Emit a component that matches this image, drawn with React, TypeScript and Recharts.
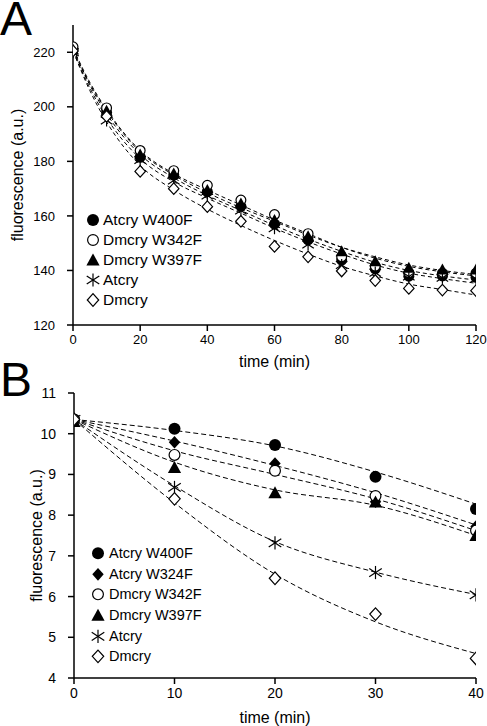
import React from 'react';
import {
  ComposedChart,
  Line,
  Scatter,
  XAxis,
  YAxis,
} from 'recharts';

// ---------- Panel A data ----------
const timeA = [0, 10, 20, 30, 40, 50, 60, 70, 80, 90, 100, 110, 120];
const a_W400F = [221, 198, 181.5, 175, 168.9, 163.5, 157, 151.2, 143.8, 140.6, 137.9, 138, 137.5];
const a_W342F = [222, 199.6, 184, 176.6, 171.2, 165.8, 160.5, 153.5, 145, 141.6, 139.2, 139, 139];
const a_W397F = [221, 198.5, 182.5, 175.5, 169.5, 164.5, 158.5, 152.5, 147, 143.4, 141, 140.3, 140.3];
const a_Atcry = [220, 195, 180.5, 173, 167.5, 162, 155.5, 149.5, 142, 139.2, 137.8, 137.3, 137];
const a_Dmcry = [220.5, 196.5, 176.3, 170, 163.4, 158, 148.8, 145, 139.8, 136.3, 133.4, 132.8, 132.6];

const fitTimeA = [0, 5, 10, 20, 30, 40, 50, 60, 70, 80, 90, 100, 110, 120];
const fitA_W400F = [221, 208, 197.5, 182.5, 174, 167.5, 162, 156.5, 151.5, 147, 143, 140, 138, 136.5];
const fitA_W342F = [221.5, 209, 199, 184, 175.5, 169.5, 164, 158.5, 153.5, 148.5, 144.5, 141.5, 139.5, 138];
const fitA_W397F = [221, 208.5, 198.5, 183.5, 175, 168.5, 163, 158, 153, 148.5, 145, 142, 140, 138.5];
const fitA_Atcry = [220.5, 207, 196, 181, 172.5, 166.5, 161, 155.5, 150.5, 146, 142, 139, 137, 135.3];
const fitA_Dmcry = [220.5, 206, 194.5, 178.5, 169.5, 162.5, 156.5, 151, 146, 141.5, 138, 135, 133, 131];

const xTicksA = [0, 20, 40, 60, 80, 100, 120];
const yTicksA = [120, 140, 160, 180, 200, 220];

// ---------- Panel B data ----------
const timeB = [0, 10, 20, 30, 40];
const b_W400F = [10.35, 10.12, 9.72, 8.94, 8.15];
const b_W324F = [10.33, 9.79, 9.27, 8.33, 7.72];
const b_W342F = [10.35, 9.48, 9.09, 8.47, 7.62];
const b_W397F = [10.3, 9.17, 8.55, 8.32, 7.5];
const b_Atcry = [10.35, 8.68, 7.32, 6.59, 6.04];
const b_Dmcry = [10.35, 8.4, 6.45, 5.57, 4.48];

const fitTimeB = [0, 10, 20, 30, 40];
const fitB_W400F = [10.35, 10.08, 9.7, 9.06, 8.27];
const fitB_W324F = [10.35, 9.82, 9.22, 8.55, 7.76];
const fitB_W342F = [10.35, 9.58, 9.0, 8.4, 7.62];
const fitB_W397F = [10.35, 9.3, 8.62, 8.24, 7.5];
const fitB_Atcry = [10.35, 8.72, 7.35, 6.6, 6.05];
const fitB_Dmcry = [10.35, 8.3, 6.55, 5.38, 4.6];

const xTicksB = [0, 10, 20, 30, 40];
const yTicksB = [4, 5, 6, 7, 8, 9, 10, 11];

const FONT = '"Liberation Sans", Arial, Helvetica, sans-serif';

type Pt = { x: number; y: number };
const zip = (xs: number[], ys: number[]): Pt[] => xs.map((x, i) => ({ x, y: ys[i] }));

type Kind = 'dot' | 'circle' | 'triangle' | 'star' | 'diamond' | 'diamondFilled';

function Marker({ kind, cx, cy, s }: { kind: Kind; cx: number; cy: number; s: number }) {
  if (cx == null || cy == null || isNaN(cx) || isNaN(cy)) return null;
  switch (kind) {
    case 'dot':
      return <circle cx={cx} cy={cy} r={s} fill="#000" />;
    case 'circle':
      return <circle cx={cx} cy={cy} r={s - 0.6} fill="#fff" stroke="#000" strokeWidth={1.2} />;
    case 'triangle':
      return (
        <polygon
          points={`${cx},${cy - s * 1.1} ${cx + s * 1.1},${cy + s * 0.9} ${cx - s * 1.1},${cy + s * 0.9}`}
          fill="#000"
        />
      );
    case 'star': {
      const r = s * 1.1;
      const dx = r * 0.95;
      const dy = r * 0.62;
      return (
        <g stroke="#000" strokeWidth={1.2}>
          <line x1={cx} y1={cy - r} x2={cx} y2={cy + r} />
          <line x1={cx - dx} y1={cy - dy} x2={cx + dx} y2={cy + dy} />
          <line x1={cx - dx} y1={cy + dy} x2={cx + dx} y2={cy - dy} />
        </g>
      );
    }
    case 'diamond': {
      const w = s * 0.95;
      const h = s * 1.05;
      return (
        <polygon
          points={`${cx},${cy - h} ${cx + w},${cy} ${cx},${cy + h} ${cx - w},${cy}`}
          fill="#fff"
          stroke="#000"
          strokeWidth={1.2}
        />
      );
    }
    case 'diamondFilled': {
      const w = s * 0.95;
      const h = s * 1.05;
      return <polygon points={`${cx},${cy - h} ${cx + w},${cy} ${cx},${cy + h} ${cx - w},${cy}`} fill="#000" />;
    }
  }
  return null;
}

type SeriesDef = { name: string; kind: Kind; data: Pt[]; fit: Pt[] };

const seriesA: SeriesDef[] = [
  { name: 'Atcry W400F', kind: 'dot', data: zip(timeA, a_W400F), fit: zip(fitTimeA, fitA_W400F) },
  { name: 'Dmcry W342F', kind: 'circle', data: zip(timeA, a_W342F), fit: zip(fitTimeA, fitA_W342F) },
  { name: 'Dmcry W397F', kind: 'triangle', data: zip(timeA, a_W397F), fit: zip(fitTimeA, fitA_W397F) },
  { name: 'Atcry', kind: 'star', data: zip(timeA, a_Atcry), fit: zip(fitTimeA, fitA_Atcry) },
  { name: 'Dmcry', kind: 'diamond', data: zip(timeA, a_Dmcry), fit: zip(fitTimeA, fitA_Dmcry) },
];

const seriesB: SeriesDef[] = [
  { name: 'Atcry W400F', kind: 'dot', data: zip(timeB, b_W400F), fit: zip(fitTimeB, fitB_W400F) },
  { name: 'Atcry W324F', kind: 'diamondFilled', data: zip(timeB, b_W324F), fit: zip(fitTimeB, fitB_W324F) },
  { name: 'Dmcry W342F', kind: 'circle', data: zip(timeB, b_W342F), fit: zip(fitTimeB, fitB_W342F) },
  { name: 'Dmcry W397F', kind: 'triangle', data: zip(timeB, b_W397F), fit: zip(fitTimeB, fitB_W397F) },
  { name: 'Atcry', kind: 'star', data: zip(timeB, b_Atcry), fit: zip(fitTimeB, fitB_Atcry) },
  { name: 'Dmcry', kind: 'diamond', data: zip(timeB, b_Dmcry), fit: zip(fitTimeB, fitB_Dmcry) },
];

function AxisTitle({ px, py, rotate, text, size }: any) {
  return (
    <text
      x={px}
      y={py}
      transform={rotate ? `rotate(-90 ${px} ${py})` : undefined}
      textAnchor="middle"
      dominantBaseline="central"
      fontFamily={FONT}
      fontSize={size}
      fill="#000"
    >
      {text}
    </text>
  );
}

function LegendBox({ series, s, fontSize, rowH, gap, left, top }: any) {
  return (
    <div style={{ position: 'absolute', left, top, fontFamily: FONT, fontSize, color: '#000' }}>
      {series.map((d: SeriesDef) => (
        <div key={d.name} style={{ display: 'flex', alignItems: 'center', height: rowH, whiteSpace: 'nowrap' }}>
          <svg width={16} height={rowH} style={{ display: 'block' }}>
            <Marker kind={d.kind} cx={8} cy={rowH / 2} s={s} />
          </svg>
          <span style={{ marginLeft: gap, lineHeight: `${rowH}px` }}>{d.name}</span>
        </div>
      ))}
    </div>
  );
}

function Panel({
  series,
  width,
  height,
  margin,
  yWidth,
  xHeight,
  xDomain,
  yDomain,
  xTicks,
  yTicks,
  tickFont,
  ms,
  dash,
  yTitle,
  xTitle,
}: any) {
  const tickStyle = { fontFamily: FONT, fontSize: tickFont, fill: '#000' };
  return (
    <ComposedChart width={width} height={height} margin={margin}>
      <XAxis
        dataKey="x"
        type="number"
        domain={xDomain}
        ticks={xTicks}
        allowDataOverflow
        height={xHeight}
        tick={tickStyle}
        tickSize={6}
        tickMargin={4}
        stroke="#000"
        strokeWidth={1.5}
        tickLine={{ stroke: '#000', strokeWidth: 1.5 }}
        label={<AxisTitle px={xTitle.x} py={xTitle.y} text="time (min)" size={16} />}
      />
      <XAxis
        xAxisId="top"
        orientation="top"
        type="number"
        domain={xDomain}
        allowDataOverflow
        height={0}
        tick={false}
        tickLine={false}
        stroke="#000"
        strokeWidth={1.5}
      />
      <YAxis
        dataKey="y"
        type="number"
        domain={yDomain}
        ticks={yTicks}
        allowDataOverflow
        width={yWidth}
        tick={tickStyle}
        tickSize={6}
        tickMargin={yTitle.tm}
        interval={0}
        stroke="#000"
        strokeWidth={1.5}
        tickLine={{ stroke: '#000', strokeWidth: 1.5 }}
        label={<AxisTitle px={yTitle.x} py={yTitle.y} rotate text="fluorescence (a.u.)" size={16} />}
      />
      <YAxis
        yAxisId="right"
        orientation="right"
        type="number"
        domain={yDomain}
        allowDataOverflow
        width={0}
        tick={false}
        tickLine={false}
        stroke="#000"
        strokeWidth={1.5}
      />
      {series.map((d: SeriesDef) => (
        <Line
          key={'fit-' + d.name}
          data={d.fit}
          dataKey="y"
          type="monotone"
          stroke="#000"
          strokeWidth={1}
          strokeDasharray={dash}
          dot={false}
          activeDot={false}
          isAnimationActive={false}
          legendType="none"
        />
      ))}
      {series.map((d: SeriesDef) => (
        <Scatter
          key={'pts-' + d.name}
          name={d.name}
          data={d.data}
          dataKey="y"
          isAnimationActive={false}
          shape={(p: any) => <Marker kind={d.kind} cx={p.cx} cy={p.cy} s={ms} />}
        />
      ))}
    </ComposedChart>
  );
}

export default function App() {
  return (
    <div style={{ position: 'absolute', left: 0, top: 0, width: 487, height: 726, background: '#fff', overflow: 'hidden' }}>
      <div style={{ position: 'absolute', left: 0, top: 0 }}>
        <Panel
          series={seriesA}
          width={487}
          height={375}
          margin={{ top: 25, right: 11, bottom: 0, left: 0 }}
          yWidth={73}
          xHeight={50}
          xDomain={[0, 120]}
          yDomain={[120, 230]}
          xTicks={xTicksA}
          yTicks={yTicksA}
          tickFont={13}
          ms={5.5}
          dash="4 3"
          yTitle={{ x: 17, y: 175, tm: 12 }}
          xTitle={{ x: 274.5, y: 361 }}
        />
      </div>
      <div style={{ position: 'absolute', left: 0, top: 368 }}>
        <Panel
          series={seriesB}
          width={487}
          height={358}
          margin={{ top: 25, right: 11, bottom: 0, left: 0 }}
          yWidth={74}
          xHeight={48}
          xDomain={[0, 40]}
          yDomain={[4, 11]}
          xTicks={xTicksB}
          yTicks={yTicksB}
          tickFont={14}
          ms={6}
          dash="5 3"
          yTitle={{ x: 36, y: 167.5, tm: 12 }}
          xTitle={{ x: 275, y: 349 }}
        />
      </div>
      <LegendBox series={seriesA} s={6} fontSize={15.5} rowH={20} gap={2} left={85} top={210} />
      <LegendBox series={seriesB} s={6} fontSize={14.5} rowH={20.7} gap={3} left={90} top={543} />
      <div style={{ position: 'absolute', left: 0, top: 0, fontFamily: FONT, fontSize: 48, lineHeight: '38px' }}>A</div>
      <div style={{ position: 'absolute', left: 0, top: 361, fontFamily: FONT, fontSize: 48, lineHeight: '38px' }}>B</div>
    </div>
  );
}
